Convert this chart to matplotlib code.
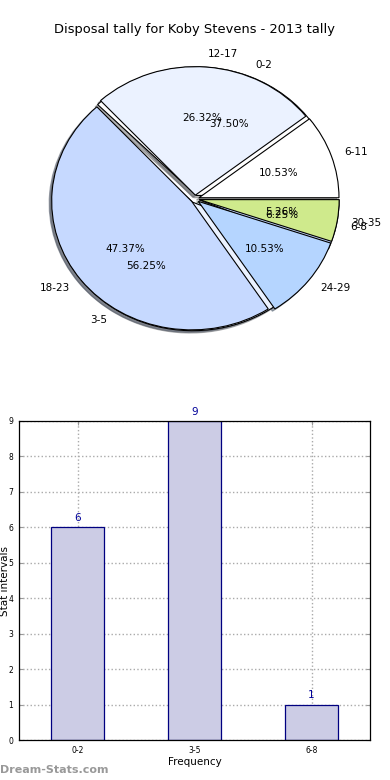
import matplotlib
matplotlib.use("Agg")
import matplotlib.pyplot as plt

title = "Disposal tally for Koby Stevens - 2013 tally"

pie1_labels = ["0-2", "3-5", "6-8"]
pie1_values = [6, 9, 1]

pie2_labels = ["6-11", "12-17", "18-23", "24-29", "30-35"]
pie2_values = [2, 5, 9, 2, 1]

bar_categories = ["0-2", "3-5", "6-8"]
bar_values = [6, 9, 1]
y_ticks = [0, 1, 2, 3, 4, 5, 6, 7, 8, 9]

colors1 = ["#FFFFFF", "#EBF2FF", "#C6D9FF"]
colors2 = ["#FFFFFF", "#EBF2FF", "#C6D9FF", "#B5D5FF", "#CFEA8C"]

fig = plt.figure(figsize=(3.9, 7.8), dpi=100)

# Pie axes
rx, ry = 140.0, 128.5
cx, cy = 195.0, 199.0
ax1 = fig.add_axes([(cx - 1.25 * rx) / 390, 1 - (cy + 1.25 * ry) / 780,
                    2.5 * rx / 390, 2.5 * ry / 780])
ex1 = [0.03] * len(pie1_values)
ex2 = [0.03] * len(pie2_values)
shadow = dict(ox=-0.013, oy=-0.013, shade=0.6)
ax1.pie(pie1_values, labels=pie1_labels, colors=colors1, explode=ex1,
        autopct="%1.2f%%", shadow=shadow,
        wedgeprops=dict(edgecolor="black", linewidth=0.8),
        textprops=dict(fontsize=7.5))
ax1.pie(pie2_values, labels=pie2_labels, colors=colors2, explode=ex2,
        autopct="%1.2f%%", shadow=shadow,
        wedgeprops=dict(edgecolor="black", linewidth=0.8),
        textprops=dict(fontsize=7.5))
ax1.set_aspect("auto")
ax1.set_xlim(-1.25, 1.25)
ax1.set_ylim(-1.25, 1.25)
fig.text(0.5, 1 - 30 / 780, title, ha="center", va="center", fontsize=9.4)

# Bar axes
ax2 = fig.add_axes([19 / 390, 1 - 740 / 780, 351 / 390, 319 / 780])
x = list(range(len(bar_categories)))
bars = ax2.bar(x, bar_values, width=0.45, color="#CCCCE5", edgecolor="#000080",
               linewidth=0.9, zorder=2)
for xi, v in zip(x, bar_values):
    ax2.text(xi, v + 0.12, str(v), ha="center", va="bottom", fontsize=7.5,
             color="#000099")
ax2.set_xlim(-0.5, 2.5)
ax2.set_ylim(0, 9)
ax2.set_xticks(x)
ax2.set_xticklabels(bar_categories)
ax2.set_yticks(y_ticks)
ax2.tick_params(axis="both", labelsize=5.5, direction="in", length=3,
                color="#999999", top=True, right=True, pad=4)
ax2.grid(True, linestyle=":", color="#aaaaaa", linewidth=1.0, zorder=0)
ax2.set_axisbelow(True)
ax2.set_xlabel("Frequency", fontsize=7.5, labelpad=2)
ax2.set_ylabel("Stat intervals", fontsize=7.5)
ax2.yaxis.set_label_coords((4.5 - 19) / 351, 0.5)
ax2.yaxis.label.set_va("center")
for s in ax2.spines.values():
    s.set_linewidth(0.9)

fig.text(0.0, 1 - 770 / 780, "Dream-Stats.com", ha="left", va="center",
         fontsize=8, color="#999999", fontweight="bold")

fig.savefig("out.png", dpi=100)
